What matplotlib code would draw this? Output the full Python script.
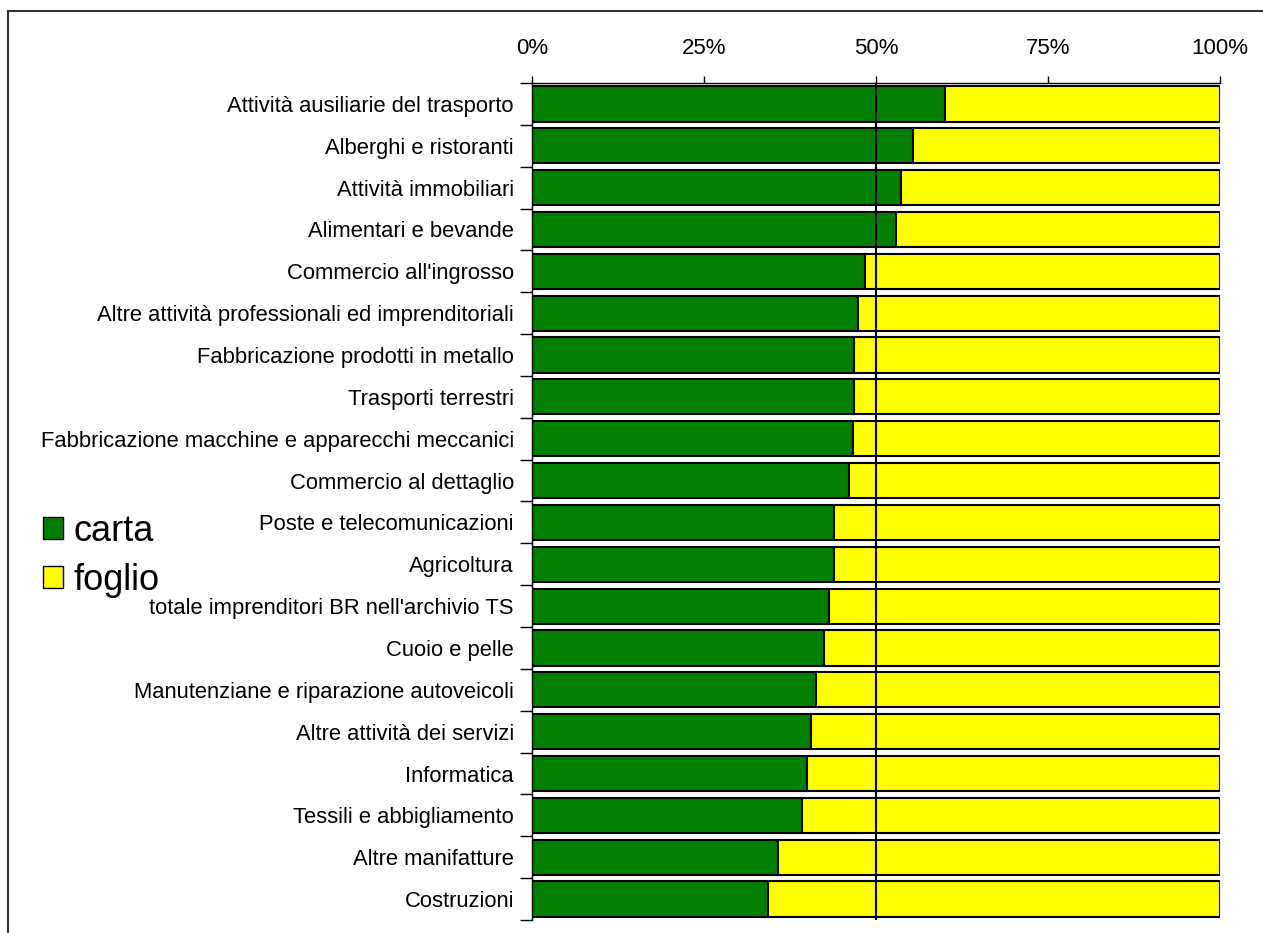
import numpy as np
import matplotlib
matplotlib.use('Agg')
import matplotlib.pyplot as plt
from matplotlib.patches import Patch
from matplotlib.lines import Line2D

plt.rcParams['font.family'] = ['Liberation Sans', 'DejaVu Sans']

# data (top to bottom)
categories = [
    'Attività ausiliarie del trasporto',
    'Alberghi e ristoranti',
    'Attività immobiliari',
    'Alimentari e bevande',
    "Commercio all'ingrosso",
    'Altre attività professionali ed imprenditoriali',
    'Fabbricazione prodotti in metallo',
    'Trasporti terrestri',
    'Fabbricazione macchine e apparecchi meccanici',
    'Commercio al dettaglio',
    'Poste e telecomunicazioni',
    'Agricoltura',
    "totale imprenditori BR nell'archivio TS",
    'Cuoio e pelle',
    'Manutenziane e riparazione autoveicoli',
    'Altre attività dei servizi',
    'Informatica',
    'Tessili e abbigliamento',
    'Altre manifatture',
    'Costruzioni',
]
carta = [60.0, 55.4, 53.6, 52.9, 48.4, 47.4, 46.8, 46.8, 46.6, 46.1,
         43.9, 43.9, 43.2, 42.4, 41.3, 40.5, 40.0, 39.2, 35.8, 34.3]
foglio = [40.0, 44.6, 46.4, 47.1, 51.6, 52.6, 53.2, 53.2, 53.4, 53.9,
          56.1, 56.1, 56.8, 57.6, 58.7, 59.5, 60.0, 60.8, 64.2, 65.7]
xticks = [0, 25, 50, 75, 100]
xtick_labels = ['0%', '25%', '50%', '75%', '100%']

green = '#008000'
yellow = '#FFFF00'

fig = plt.figure(figsize=(12.63, 9.33), dpi=100)
ax = fig.add_axes([532 / 1263, 1 - 920 / 933, (1220 - 532) / 1263, (920 - 83) / 933])

y = np.arange(len(categories))
ax.barh(y, carta, height=0.84, color=green, edgecolor='black', linewidth=1.5)
ax.barh(y, foglio, left=carta, height=0.84, color=yellow, edgecolor='black', linewidth=1.5)
ax.axvline(50, color='black', linewidth=1.5)

ax.set_xlim(0, 100)
ax.set_ylim(len(categories) - 0.5, -0.5)

ax.xaxis.tick_top()
ax.set_xticks(xticks)
ax.set_xticklabels(xtick_labels, fontsize=16)
ax.tick_params(axis='x', direction='out', length=5, width=1, pad=12.5)

ax.set_yticks(y)
ax.set_yticklabels(categories, fontsize=15.8)
ax.set_yticks(np.arange(-0.5, len(categories)), minor=True)
ax.tick_params(axis='y', which='major', length=0, pad=13)
ax.tick_params(axis='y', which='minor', length=8.5, width=1)

ax.spines['right'].set_visible(False)
ax.spines['bottom'].set_visible(False)
ax.spines['top'].set_linewidth(1)
ax.spines['left'].set_linewidth(1)

handles = [Patch(facecolor=green, edgecolor='black', linewidth=1),
           Patch(facecolor=yellow, edgecolor='black', linewidth=1)]
fig.legend(handles, ['carta', 'foglio'], loc='center left',
           bbox_to_anchor=(25 / 1263, 1 - 556 / 933), frameon=False,
           fontsize=26, handlelength=0.55, handleheight=0.55,
           handletextpad=0.3, labelspacing=0.38, borderpad=0)

# frame around the chart area
fig.add_artist(Line2D([8 / 1263, 8 / 1263], [0, 1 - 11 / 933], color='#333333', linewidth=1.5))
fig.add_artist(Line2D([8 / 1263, 1], [1 - 11 / 933, 1 - 11 / 933], color='#333333', linewidth=1.5))

fig.savefig('out.png', dpi=100)
